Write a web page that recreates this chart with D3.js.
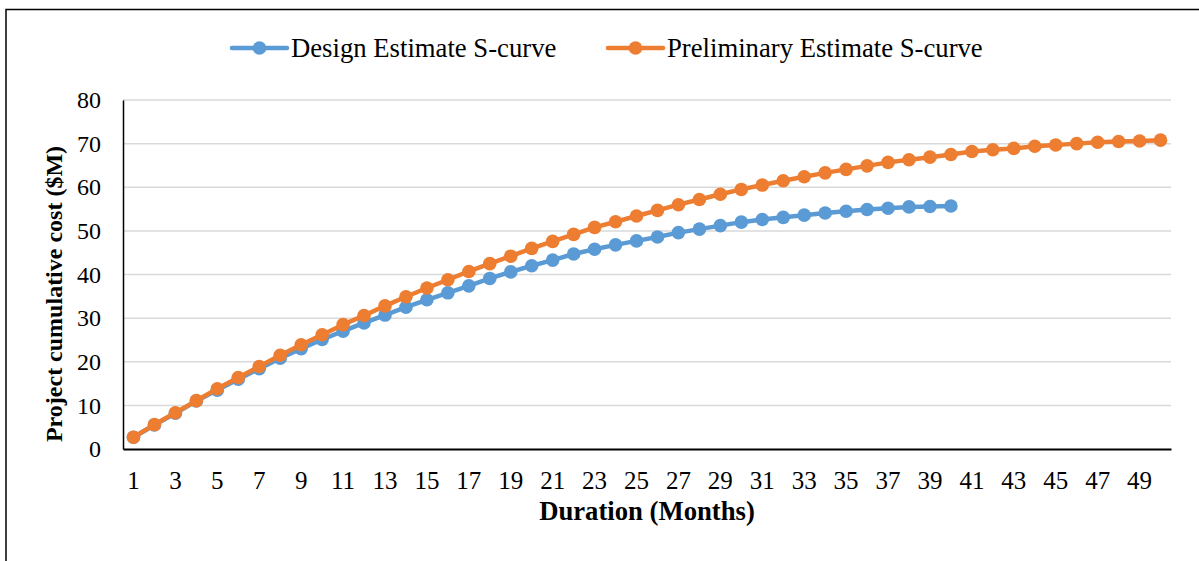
<!DOCTYPE html>
<html>
<head>
<meta charset="utf-8">
<script src="https://cdn.jsdelivr.net/npm/d3@7"></script>
<style>
  html, body { margin: 0; padding: 0; background: #fff; }
  svg { display: block; }
  text { font-family: "Liberation Serif", "Times New Roman", serif; fill: #000; }
</style>
</head>
<body>
<svg id="chart" width="1199" height="561"></svg>
<script>
const months = d3.range(1, 51);
const designEstimate = [2.7, 5.5, 8.2, 11.0, 13.5, 16.0, 18.4, 20.8, 23.0, 25.1,
  27.0, 28.9, 30.7, 32.5, 34.2, 35.8, 37.4, 39.1, 40.6, 42.0,
  43.3, 44.7, 45.8, 46.8, 47.7, 48.6, 49.6, 50.4, 51.2, 52.0,
  52.6, 53.1, 53.6, 54.1, 54.5, 54.9, 55.2, 55.5, 55.6, 55.7];
const preliminaryEstimate = [2.7, 5.6, 8.3, 11.1, 13.8, 16.4, 18.9, 21.5, 23.9, 26.2,
  28.5, 30.6, 32.8, 34.9, 36.9, 38.8, 40.7, 42.5, 44.2, 46.0,
  47.6, 49.2, 50.8, 52.1, 53.4, 54.7, 56.0, 57.2, 58.4, 59.5,
  60.5, 61.5, 62.4, 63.3, 64.1, 64.9, 65.7, 66.3, 66.9, 67.5,
  68.2, 68.6, 68.9, 69.4, 69.7, 70.0, 70.3, 70.5, 70.6, 70.8];
const yTicks = [0, 10, 20, 30, 40, 50, 60, 70, 80];
const xTickLabels = months.filter(m => m % 2 === 1);
const seriesNames = ["Design Estimate S-curve", "Preliminary Estimate S-curve"];
const seriesColors = ["#5B9BD5", "#ED7D31"];
const xTitle = "Duration (Months)";
const yTitle = "Project cumulative cost ($M)";

const svg = d3.select("#chart");
const plot = { left: 123, right: 1171, top: 100, bottom: 449 };

// outer border (extends beyond the viewport at right/bottom)
svg.append("rect").attr("x", 6).attr("y", 9.5).attr("width", 1300).attr("height", 700)
  .attr("fill", "none").attr("stroke", "#000").attr("stroke-width", 1.5);

const x = d3.scaleBand().domain(months).range([plot.left, plot.right]);
const y = d3.scaleLinear().domain([0, 80]).range([plot.bottom, plot.top]);
const cx = m => x(m) + x.bandwidth() / 2;

// gridlines
svg.append("g").selectAll("line").data(yTicks.filter(t => t > 0)).join("line")
  .attr("x1", plot.left).attr("x2", plot.right)
  .attr("y1", d => y(d)).attr("y2", d => y(d))
  .attr("stroke", "#d9d9d9").attr("stroke-width", 1.5);

// y axis
const yAxis = d3.axisLeft(y).tickValues(yTicks).tickSize(0).tickPadding(22);
const gy = svg.append("g").attr("transform", `translate(${plot.left},0)`).call(yAxis);
gy.select(".domain").attr("stroke", "#000").attr("stroke-width", 1.5);
gy.selectAll("text").style("font-family", "Liberation Serif").style("font-size", "24px").attr("fill", "#000");

// x axis
const xAxis = d3.axisBottom(x).tickValues(xTickLabels).tickSize(0).tickPadding(22);
const gx = svg.append("g").attr("transform", `translate(0,${plot.bottom})`).call(xAxis);
gx.select(".domain").attr("stroke", "#000").attr("stroke-width", 2.2);
gx.selectAll("text").style("font-family", "Liberation Serif").style("font-size", "25px").attr("fill", "#000");

// series
const seriesData = [designEstimate, preliminaryEstimate];
const line = d3.line().x((d, i) => cx(months[i])).y(d => y(d));
seriesData.forEach((vals, si) => {
  const g = svg.append("g");
  g.append("path").datum(vals).attr("d", line).attr("fill", "none")
    .attr("stroke", seriesColors[si]).attr("stroke-width", 4.5).attr("stroke-linejoin", "round");
  g.selectAll("circle").data(vals).join("circle")
    .attr("cx", (d, i) => cx(months[i])).attr("cy", d => y(d)).attr("r", 6.8)
    .attr("fill", seriesColors[si]);
});

// axis titles
svg.append("text").attr("x", (plot.left + plot.right) / 2).attr("y", 520)
  .attr("text-anchor", "middle").style("font-weight", "bold").style("font-size", "26.7px").text(xTitle);
svg.append("text").attr("transform", `translate(62,294) rotate(-90)`)
  .attr("text-anchor", "middle").style("font-weight", "bold").style("font-size", "24px").text(yTitle);

// legend
const legendItems = [{ x0: 232, name: seriesNames[0], color: seriesColors[0] },
                     { x0: 608, name: seriesNames[1], color: seriesColors[1] }];
const lg = svg.append("g");
legendItems.forEach(it => {
  lg.append("line").attr("x1", it.x0).attr("x2", it.x0 + 55).attr("y1", 48).attr("y2", 48)
    .attr("stroke", it.color).attr("stroke-width", 4.5).attr("stroke-linecap", "round");
  lg.append("circle").attr("cx", it.x0 + 27.5).attr("cy", 48).attr("r", 6.8).attr("fill", it.color);
  lg.append("text").attr("x", it.x0 + 59).attr("y", 57).style("font-size", "26.7px").text(it.name);
});
</script>
</body>
</html>
